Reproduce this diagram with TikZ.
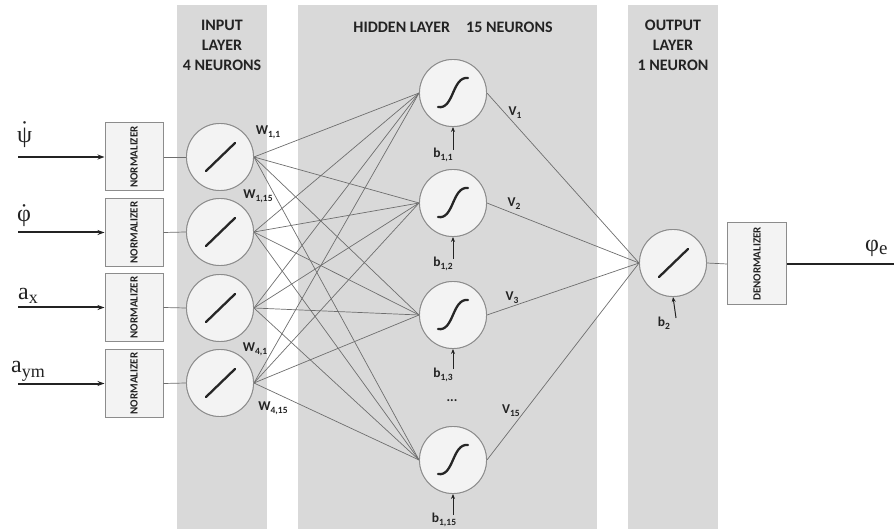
\documentclass[tikz,border=0pt]{standalone}
\usepackage{fontspec}
\setmainfont{Liberation Serif}
\newfontfamily\labfont{Carlito}
\usetikzlibrary{arrows.meta}
\definecolor{band}{RGB}{217,217,217}
\definecolor{nfill}{RGB}{243,243,243}
\definecolor{nedge}{RGB}{140,140,140}
\definecolor{conn}{RGB}{110,110,110}
\definecolor{ink}{RGB}{35,35,35}
\newcommand\sbs[1]{\raisebox{-2.8pt}{\fontsize{9.5}{10}\selectfont #1}}
\newcommand\dotover[2]{\ooalign{#2\cr\hidewidth\raisebox{#1}{˙}\hidewidth\cr}}
\begin{document}
\begin{tikzpicture}[x=1pt,y=-1pt,
  neuron/.style={circle,draw=nedge,fill=nfill,line width=0.9pt,minimum size=67pt,inner sep=0pt},
  normbox/.style={draw=nedge,fill=nfill,line width=1pt,minimum width=58pt,minimum height=68pt,inner sep=0pt},
  denormbox/.style={draw=nedge,fill=nfill,line width=1pt,minimum width=59pt,minimum height=82pt,inner sep=0pt},
  link/.style={draw=conn,line width=0.7pt},
  inarrow/.style={draw=ink,line width=2pt,-{Stealth[length=7pt,width=5pt]}},
  outline/.style={draw=ink,line width=2pt},
  biasarrow/.style={draw=ink,line width=1pt,-{Stealth[length=5pt,width=4pt]}},
  symline/.style={draw=black!85,line width=2.3pt,line cap=round},
  hdr/.style={font=\labfont\bfseries\fontsize{16}{20}\selectfont,align=center,text=ink,inner sep=0pt},
  wlab/.style={font=\labfont\bfseries\fontsize{13.5}{15}\selectfont,text=ink,inner sep=0pt},
  symb/.style={font=\fontsize{24}{28}\selectfont,text=ink,inner sep=0pt,anchor=base west},
  boxtext/.style={font=\labfont\bfseries\fontsize{11}{12}\selectfont,rotate=90,text=ink,inner sep=0pt}
]
\useasboundingbox (0,0) rectangle (894,529);
% layer bands
\fill[band] (177,5) rectangle (267,529);
\fill[band] (298,5) rectangle (597,529);
\fill[band] (628,5) rectangle (718,529);
% headers
\node[hdr] (hin) at (222,45) {INPUT\\LAYER\\4 NEURONS};
\node[hdr] (hhid) at (453,27) {HIDDEN LAYER\quad 15 NEURONS};
\node[hdr] (hout) at (673,45) {OUTPUT\\LAYER\\1 NEURON};
% normalizers
\foreach \k/\y in {1/157,2/232.5,3/307.5,4/383.5}{
  \node[normbox] (n\k) at (134,\y) {};
  \node[boxtext] (nt\k) at (n\k) {NORMALIZER};
}
% neurons
\foreach \k/\y in {1/157,2/232,3/308,4/383}{
  \node[neuron] (in\k) at (220,\y) {};
}
\foreach \k/\y in {1/93,2/203,3/315,15/460}{
  \node[neuron] (h\k) at (453,\y) {};
}
\node[neuron] (o) at (673,263) {};
\node[denormbox] (dn) at (757,264) {};
\node[boxtext] (dnt) at (dn) {DENORMALIZER};
% connections
\foreach \i in {1,2,3,4}{
  \foreach \j in {1,2,3,15}{
    \draw[link] (in\i.east) -- (h\j.west);
  }
}
\foreach \j in {1,2,3,15}{
  \draw[link] (h\j.east) -- (o.west);
}
\foreach \k in {1,2,3,4}{
  \draw[link] (n\k.east) -- (in\k.west);
}
\draw[link] (o.east) -- (dn.west);
% redraw circles on top of line ends
\foreach \k in {1,2,3,4}{ \node[neuron] at (in\k) {}; }
\foreach \k in {1,2,3,15}{ \node[neuron] at (h\k) {}; }
\node[neuron] at (o) {};
% activation symbols
\foreach \k in {1,2,3,4}{
  \draw[symline, shift={(in\k.center)}] (-14,14) -- (15,-14);
}
\draw[symline, shift={(o.center)}] (-14,14) -- (15,-14);
\foreach \k in {1,2,3,15}{
  \draw[symline, shift={(h\k.center)}] (-15,14) .. controls (1,17) and (-1,-17) .. (15,-15);
}
% inputs
\foreach \k/\y in {1/157,2/232.5,3/307.5,4/383.5}{
  \coordinate (s\k) at (18,\y);
  \draw[inarrow] (s\k) -- (n\k.west);
}
\node[symb] (lpsi) at (17,143) {\dotover{5pt}{ψ}};
\node[symb] (lphi) at (17,222) {\dotover{1pt}{φ}};
\node[symb] (lax) at (18,299) {a\raisebox{-5pt}{\fontsize{18}{20}\selectfont x}};
\node[symb] (lay) at (11,372) {a\raisebox{-5pt}{\fontsize{18}{20}\selectfont ym}};
% output
\coordinate (oend) at (894,264);
\draw[outline] (dn.east) -- (oend);
\node[symb] (lphie) at (865,252) {φ\raisebox{-3pt}{\fontsize{19}{20}\selectfont e}};
% biases
\foreach \k/\y in {1/150,2/259,3/369,15/515}{
  \coordinate (bt\k) at (453,\y);
  \draw[biasarrow] (bt\k) -- (h\k.south);
}
\node[wlab] (lb1) at (443,155) {b\sbs{1,1}};
\node[wlab] (lb2) at (443,264) {b\sbs{1,2}};
\node[wlab] (lb3) at (443,375) {b\sbs{1,3}};
\node[wlab] (lb15) at (444,520) {b\sbs{1,15}};
\coordinate (bto) at (676,318);
\draw[biasarrow] (bto) -- (o.south);
\node[wlab] (lbo) at (664,323) {b\sbs{2}};
\node[wlab] (dots) at (452,401) {...};
% weights
\node[wlab] (w11) at (268,132) {W\sbs{1,1}};
\node[wlab] (w115) at (258,196) {W\sbs{1,15}};
\node[wlab] (w41) at (255,349) {W\sbs{4,1}};
\node[wlab] (w415) at (273,408) {W\sbs{4,15}};
\node[wlab] (v1) at (515,113) {V\sbs{1}};
\node[wlab] (v2) at (514,204) {V\sbs{2}};
\node[wlab] (v3) at (512,298) {V\sbs{3}};
\node[wlab] (v15) at (511,411) {V\sbs{15}};
\end{tikzpicture}
\end{document}
